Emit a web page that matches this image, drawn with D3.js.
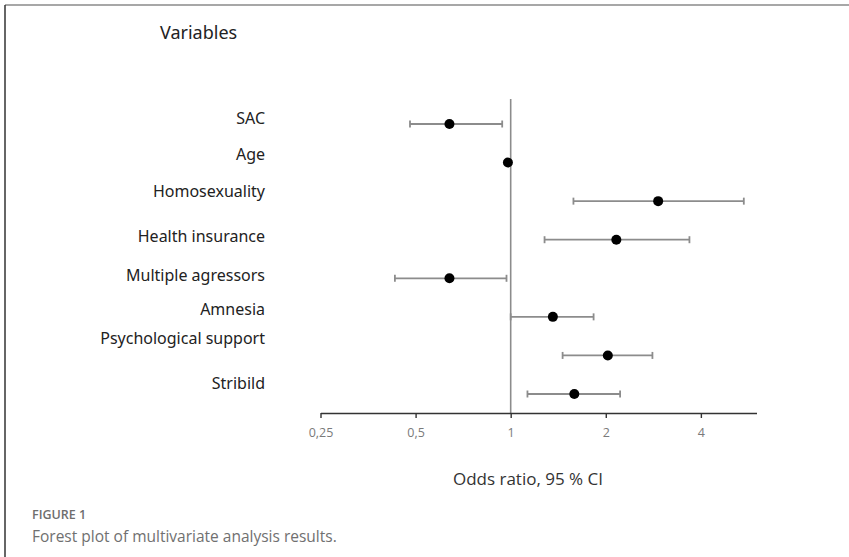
<!DOCTYPE html>
<html>
<head>
<meta charset="utf-8">
<script src="https://cdn.jsdelivr.net/npm/d3@7"></script>
<style>
  html, body { margin: 0; padding: 0; background: #fff; }
  svg { display: block; }
</style>
</head>
<body>
<script>
// Multivariate analysis: odds ratios with 95 % confidence intervals
const variables = ["SAC", "Age", "Homosexuality", "Health insurance", "Multiple agressors", "Amnesia", "Psychological support", "Stribild"];
const oddsRatio = [0.64, 0.98, 2.93, 2.16, 0.64, 1.36, 2.03, 1.59];
const ciLower   = [0.48, 0.97, 1.58, 1.28, 0.43, 1.00, 1.46, 1.13];
const ciUpper   = [0.94, 0.99, 5.47, 3.68, 0.97, 1.83, 2.81, 2.22];
const tickValues = [0.25, 0.5, 1, 2, 4];

const W = 849, H = 557;
const svg = d3.select("body").append("svg").attr("width", W).attr("height", H);

// panel frame (top and left edges)
svg.append("line").attr("x1", 5).attr("x2", W).attr("y1", 5).attr("y2", 5)
  .attr("stroke", "#8a8a8a").attr("stroke-width", 1.5);
svg.append("line").attr("x1", 5).attr("x2", 5).attr("y1", 5).attr("y2", H)
  .attr("stroke", "#333").attr("stroke-width", 1.5);

const rows = variables.map((v, i) => ({ name: v, or: oddsRatio[i], lo: ciLower[i], hi: ciUpper[i] }));

const x = d3.scaleLog().base(2).domain([0.25, 6]).range([320.5, 756.5]);
const y = d3.scalePoint().domain(variables).range([124, 394]);
const axisY = 413;

// comma decimal separator
const locale = d3.formatLocale({ decimal: ",", thousands: ".", grouping: [3], currency: ["", ""] });
const fmt = locale.format("~g");

// reference line at OR = 1
svg.append("line")
  .attr("x1", x(1)).attr("x2", x(1)).attr("y1", 99).attr("y2", axisY)
  .attr("stroke", "#8c8c8c").attr("stroke-width", 1.6);

// x axis
const axis = svg.append("g").attr("transform", `translate(0,${axisY})`)
  .call(d3.axisBottom(x).tickValues(tickValues).tickFormat(fmt).tickSize(5).tickSizeOuter(0));
axis.select(".domain").attr("stroke", "#333").attr("stroke-width", 1.6);
axis.selectAll(".tick line").attr("stroke", "#333").attr("stroke-width", 1.4);
axis.selectAll(".tick text")
  .attr("y", 20).attr("dy", "0.32em")
  .attr("fill", "#7a7a7a")
  .style("font-family", "'Open Sans', sans-serif").style("font-size", "12.5px");

// confidence intervals
const ci = svg.append("g").selectAll("g").data(rows).join("g")
  .attr("stroke", "#8c8c8c").attr("stroke-width", 1.8);
ci.append("line")
  .attr("x1", d => x(d.lo)).attr("x2", d => x(d.hi))
  .attr("y1", d => y(d.name)).attr("y2", d => y(d.name));
ci.append("line")
  .attr("x1", d => x(d.lo)).attr("x2", d => x(d.lo))
  .attr("y1", d => y(d.name) - 3.5).attr("y2", d => y(d.name) + 3.5);
ci.append("line")
  .attr("x1", d => x(d.hi)).attr("x2", d => x(d.hi))
  .attr("y1", d => y(d.name) - 3.5).attr("y2", d => y(d.name) + 3.5);

// point estimates
svg.append("g").selectAll("circle").data(rows).join("circle")
  .attr("cx", d => x(d.or)).attr("cy", d => y(d.name)).attr("r", 5)
  .attr("fill", "#000");

// row labels (slightly raised above their rows)
const labelNudge = [-6, -8, -10, -3, -3, -7, -17, -11];
svg.append("g").selectAll("text").data(rows).join("text")
  .attr("x", 265).attr("y", (d, i) => y(d.name) + labelNudge[i]).attr("dy", "0.35em")
  .attr("text-anchor", "end").attr("fill", "#222")
  .style("font-family", "'Noto Sans', sans-serif").style("font-size", "16px")
  .text(d => d.name);

// column header
svg.append("text").attr("x", 160).attr("y", 33).attr("dy", "0.35em")
  .attr("fill", "#222")
  .style("font-family", "'Noto Sans', sans-serif").style("font-size", "18px")
  .text("Variables");

// axis title
svg.append("text").attr("x", 528).attr("y", 479).attr("dy", "0.35em")
  .attr("text-anchor", "middle").attr("fill", "#333")
  .style("font-family", "'Open Sans', sans-serif").style("font-size", "17px")
  .text("Odds ratio, 95 % CI");

// figure caption
svg.append("text").attr("x", 32).attr("y", 515).attr("dy", "0.35em")
  .attr("fill", "#6e6e6e")
  .style("font-family", "'Open Sans', sans-serif").style("font-size", "12.5px").style("font-weight", 600)
  .text("FIGURE 1");
svg.append("text").attr("x", 32).attr("y", 537).attr("dy", "0.35em")
  .attr("fill", "#707070")
  .style("font-family", "'Open Sans', sans-serif").style("font-size", "15.5px")
  .text("Forest plot of multivariate analysis results.");
</script>
</body>
</html>
